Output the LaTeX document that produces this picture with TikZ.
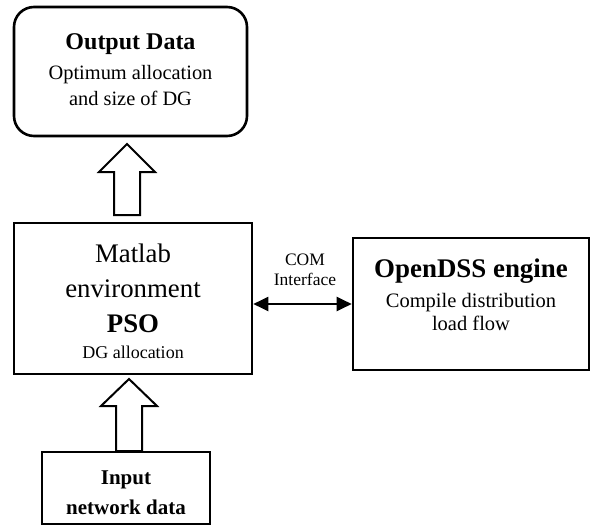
\documentclass[tikz,border=0pt]{standalone}
\usepackage{fontspec}
\setmainfont{Liberation Serif}
\usetikzlibrary{arrows.meta,calc}
\newcommand{\fsz}[2]{\fontsize{#1}{#2}\selectfont}
\begin{document}
\begin{tikzpicture}[x=1pt,y=-1pt,
  box/.style={draw,line width=2.6pt,inner sep=0pt},
  txt/.style={align=center,inner sep=0pt},
  blockarrow/.style={draw,line width=2pt,fill=white,line join=miter}]
\useasboundingbox (0,0) rectangle (591,527);
% boxes
\node[box,rounded corners=20pt,minimum width=233pt,minimum height=129pt] (out) at (130.5,71.5) {};
\node[box,minimum width=238pt,minimum height=151pt] (mat) at (133,298.5) {};
\node[box,minimum width=236pt,minimum height=132pt] (dss) at (471,304) {};
\node[box,minimum width=168pt,minimum height=72pt] (inp) at (126,488) {};
% texts
\node[txt,anchor=base] (outt1) at (130.5,49) {\fsz{24}{28}\bfseries Output Data};
\node[txt,anchor=base] (outt2) at (130.5,79) {\fsz{20.4}{26}Optimum allocation};
\node[txt,anchor=base] (outt3) at (130.5,105) {\fsz{20.4}{26}and size of DG};
\node[txt,anchor=base] (mat1) at (133,262) {\fsz{26.8}{30}Matlab};
\node[txt,anchor=base] (mat2) at (133,297) {\fsz{26.8}{30}environment};
\node[txt,anchor=base] (mat3) at (133,332) {\fsz{26.8}{30}\bfseries PSO};
\node[txt,anchor=base] (mat4) at (133,358) {\fsz{18}{22}DG allocation};
\node[txt,anchor=base] (dss1) at (471,277) {\fsz{26.9}{30}\bfseries OpenDSS engine};
\node[txt,anchor=base] (dss2) at (471,307) {\fsz{20.5}{24}Compile distribution};
\node[txt,anchor=base] (dss3) at (471,330) {\fsz{20.5}{24}load flow};
\node[txt,anchor=base] (com1) at (305,265) {\fsz{17.5}{20}COM};
\node[txt,anchor=base] (com2) at (305,285) {\fsz{17.5}{20}Interface};
\node[txt,anchor=base] (inp1) at (126,484) {\fsz{21}{25}\bfseries Input};
\node[txt,anchor=base] (inp2) at (126,514) {\fsz{21}{25}\bfseries network data};
% block arrows
\draw[blockarrow] (114,215) -- (114,172) -- (99,172) -- (127,144) -- (155,172) -- (140,172) -- (140,215) -- cycle;
\draw[blockarrow] (116,451) -- (116,406) -- (101,406) -- (129,379) -- (157,406) -- (142,406) -- (142,451) -- cycle;
% COM interface arrow
\draw[line width=2pt,{Triangle[length=15pt,width=14pt]}-{Triangle[length=15pt,width=14pt]}] (dss.west -| mat.east) -- (dss.west);
\end{tikzpicture}
\end{document}
